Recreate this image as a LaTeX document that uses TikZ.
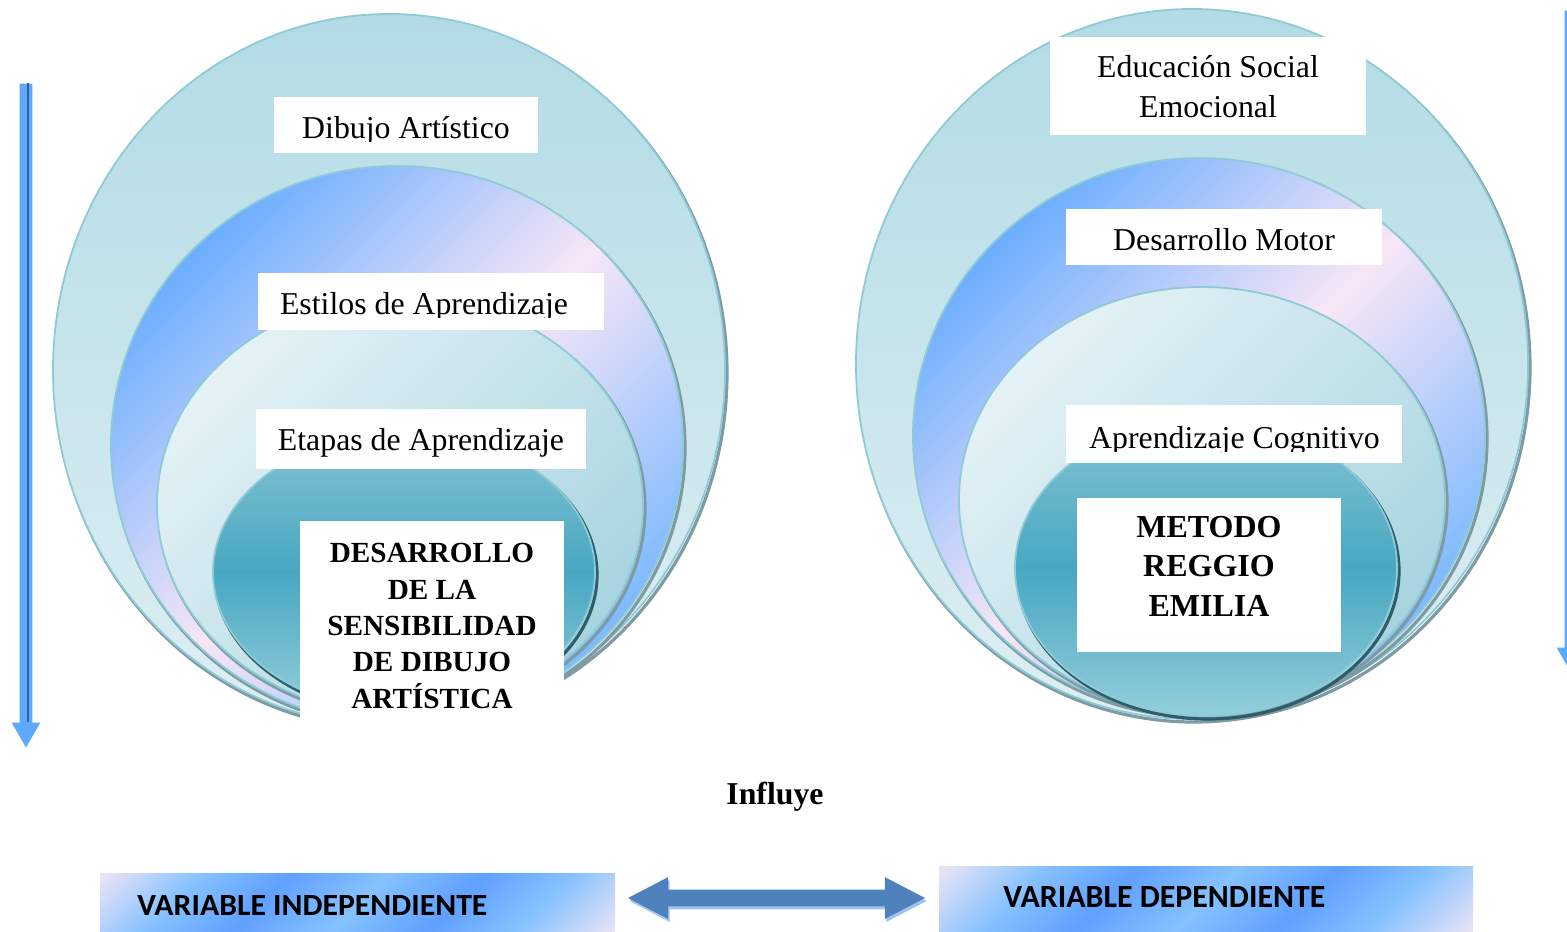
\documentclass[tikz,border=0pt]{standalone}
\usepackage{graphicx}
\usepackage{fontspec}
\setmainfont{Liberation Serif}
\newfontfamily\barfont{Carlito}
\usetikzlibrary{shapes.arrows,calc}
\definecolor{outA}{HTML}{B3DBE5}
\definecolor{outB}{HTML}{DDEFF3}
\definecolor{rimc}{HTML}{8FCAD7}
\definecolor{shadc}{HTML}{7E9BA3}
\definecolor{blueA}{HTML}{6CAEFF}
\definecolor{blueB}{HTML}{7EB9FF}
\definecolor{pinkA}{HTML}{F7E6F6}
\definecolor{thA}{HTML}{E4F2F6}
\definecolor{thB}{HTML}{A7D4DF}
\definecolor{inA}{HTML}{85C4D3}
\definecolor{inB}{HTML}{47A7C1}
\definecolor{inC}{HTML}{93CEDB}
\definecolor{inshad}{HTML}{2E5E6C}
\definecolor{barpink}{HTML}{F2E6F5}
\definecolor{barblueA}{HTML}{60A0FF}
\definecolor{barblueB}{HTML}{86C2FF}
\definecolor{arrowc}{HTML}{4F81BD}
\definecolor{arrowlight}{HTML}{9DC3EE}
\definecolor{vblue}{HTML}{5EA8FF}
\definecolor{vdark}{HTML}{34608E}
\pgfdeclarehorizontalshading{barshade}{100bp}{color(0bp)=(barpink); color(14bp)=(barpink); color(27bp)=(barblueB); color(38bp)=(barblueA); color(50bp)=(barblueB); color(62bp)=(barblueA); color(73bp)=(barblueB); color(86bp)=(barpink); color(100bp)=(barpink)}
\newcommand\ringlayer[6]{%
  \draw[#6] (#1+2,#2+3) ellipse [x radius=#3, y radius=#4];
  \draw[ring,#5] (#1,#2) ellipse [x radius=#3, y radius=#4];}
\begin{document}
\begin{tikzpicture}[x=0.5pt,y=-0.5pt,
  ring/.style={draw=rimc, line width=0.9pt},
  shadowring/.style={draw=shadc, line width=1.6pt},
  innershadow/.style={draw=inshad, line width=1.6pt},
  outerfill/.style={top color=outA, bottom color=outB},
  secondfill/.style={top color=blueA, bottom color=blueB, middle color=pinkA, shading angle=45},
  thirdfill/.style={top color=thA, bottom color=thB, shading angle=45},
  innerfill/.style={top color=inA, bottom color=inC, middle color=inB},
  wbox/.style={fill=white, inner sep=0pt, outer sep=0pt},
  lbl/.style={font=\fontsize{15.9}{20}\selectfont, inner sep=0pt, anchor=base},
  mlbl/.style={font=\fontsize{15.9}{20}\selectfont, inner sep=0pt, align=center},
  blbl/.style={font=\bfseries\fontsize{14.6}{18.2}\selectfont, inner sep=0pt, align=center},
  rlbl/.style={font=\bfseries\fontsize{16}{19.8}\selectfont, inner sep=0pt, align=center},
  varrow/.style={single arrow, rotate=-90, fill=vblue, inner xsep=0pt, inner ysep=3pt,
    minimum width=14pt, single arrow head extend=4pt, single arrow tip angle=60,
    single arrow head indent=0pt},
  darrow/.style={double arrow, fill=arrowc, inner xsep=0pt, inner ysep=4pt,
    minimum height=148.5pt, minimum width=20.5pt, double arrow head extend=6.25pt,
    double arrow tip angle=55, double arrow head indent=0pt},
  barbox/.style={shading=barshade, shading angle=-45, inner sep=0pt, outer sep=0pt},
  barlbl/.style={font=\barfont\bfseries, inner sep=0pt, anchor=base west}]
\useasboundingbox (0,0) rectangle (1567,931);
\fill[white] (0,0) rectangle (1567,931);

% ---------- left concentric figure ----------
\ringlayer{389}{370}{336}{356}{outerfill}{shadowring}
\ringlayer{397}{445}{286}{279}{secondfill}{shadowring}
\ringlayer{400}{505}{243}{210}{thirdfill}{shadowring}
\ringlayer{404}{572}{191}{140}{innerfill}{innershadow}

\node[wbox, minimum width=132pt, minimum height=28pt] (b1) at (406,125) {};
\begin{scope}
  \clip (b1.north west) rectangle (538,141);
  \node[lbl] (t1) at (406,138) {Dibujo Artístico};
\end{scope}
\node[wbox, minimum width=173pt, minimum height=28.5pt] (b2) at (431,301.5) {};
\begin{scope}
  \clip (b2.north west) rectangle (604,317);
  \node[lbl] (t2) at (424,314) {Estilos de Aprendizaje};
\end{scope}
\node[wbox, minimum width=165pt, minimum height=30pt] (b3) at (421,439) {};
\node[lbl] (t3) at (421,450) {Etapas de Aprendizaje};
\node[wbox, minimum width=132pt, minimum height=105pt] (b4) at (432,626) {};
\node[blbl] (t4) at (432,626) {DESARROLLO\\DE LA\\SENSIBILIDAD\\DE DIBUJO\\ARTÍSTICA};

% ---------- right concentric figure ----------
\ringlayer{1192}{364}{336}{355}{outerfill}{shadowring}
\ringlayer{1199}{436}{286}{278}{secondfill}{shadowring}
\ringlayer{1202}{500}{243}{213}{thirdfill}{shadowring}
\ringlayer{1206}{568}{191}{148}{innerfill}{innershadow}

\node[wbox, minimum width=158pt, minimum height=49pt] (r1) at (1208,86) {};
\node[mlbl] (s1) at (1208,87) {Educación Social\\Emocional};
\node[wbox, minimum width=158pt, minimum height=28pt] (r2) at (1224,237) {};
\node[lbl] (s2) at (1224,250) {Desarrollo Motor};
\node[wbox, minimum width=168pt, minimum height=29pt] (r3) at (1234,434) {};
\begin{scope}
  \clip (r3.north west) rectangle (1402,451);
  \node[lbl] (s3) at (1234.5,448) {Aprendizaje Cognitivo};
\end{scope}
\node[wbox, minimum width=132pt, minimum height=77pt] (r4) at (1209,575) {};
\node[rlbl] (s4) at (1209,566) {METODO\\REGGIO\\EMILIA};

% ---------- vertical arrows ----------
\node[varrow, minimum height=332pt] (al) at (26,410) {};
\coordinate (alhead) at ($(al.before head)!0.5!(al.after head)$);
\draw[vdark, line width=1.1pt] ([xshift=1pt]al.tail) -- ([xshift=1pt]alhead);
\node[varrow, minimum height=331pt] (ar) at (1571,336) {};

% ---------- bottom ----------
\node[font=\bfseries\fontsize{15.9}{19}\selectfont, inner sep=0pt, anchor=base] (inf) at (775,804) {Influye};

\node[barbox, minimum width=257.5pt, minimum height=31pt] (vi) at (357.5,904) {};
\node[barlbl] (vit) at (137,915) {\resizebox{175pt}{10pt}{VARIABLE INDEPENDIENTE}};
\node[barbox, minimum width=267pt, minimum height=34.5pt] (vd) at (1206,900.5) {};
\node[barlbl] (vdt) at (1003,907) {\resizebox{161pt}{10.5pt}{VARIABLE DEPENDIENTE}};

\node[darrow, fill=arrowlight] (das) at (778,901) {};
\node[darrow] (da) at (776.5,898) {};
\end{tikzpicture}
\end{document}
